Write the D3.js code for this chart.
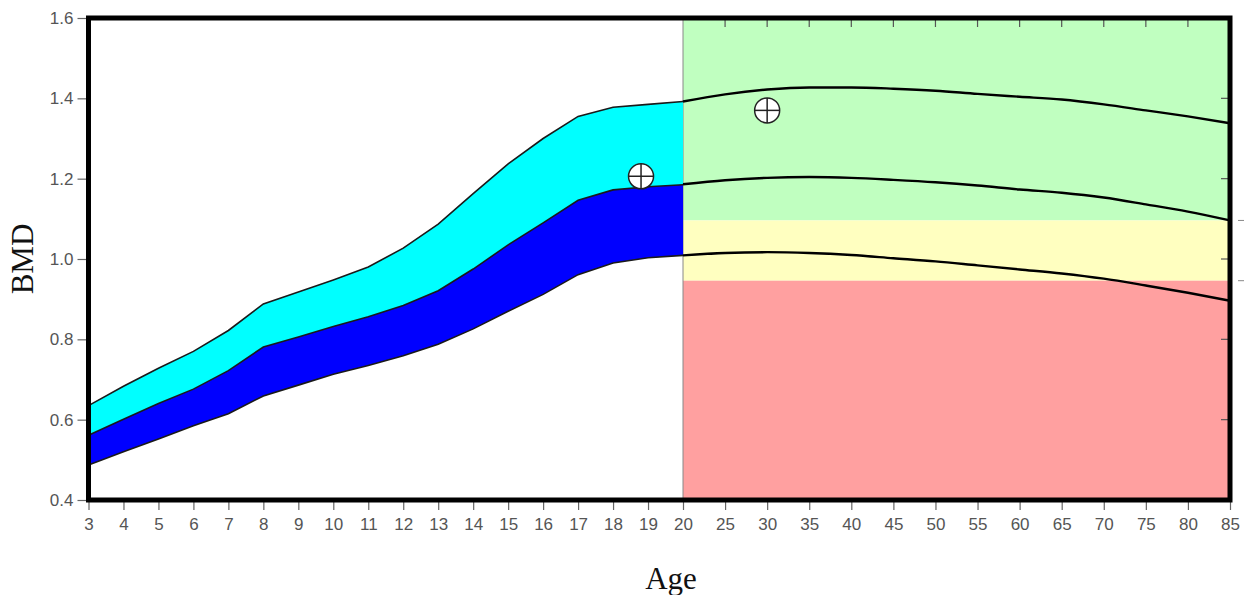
<!DOCTYPE html>
<html>
<head>
<meta charset="utf-8">
<script src="https://cdn.jsdelivr.net/npm/d3@7/dist/d3.min.js"></script>
<style>
html,body{margin:0;padding:0;background:#fff;}
svg{display:block;}
</style>
</head>
<body>
<svg id="chart" width="1244" height="595"></svg>
<script>
// ---------- data ----------
const agesChild = [3,4,5,6,7,8,9,10,11,12,13,14,15,16,17,18,19,20];
const childUpper = [0.635,0.683,0.728,0.770,0.822,0.888,0.918,0.948,0.980,1.027,1.087,1.163,1.237,1.300,1.355,1.378,1.385,1.392];
const childMid   = [0.561,0.601,0.640,0.676,0.722,0.781,0.806,0.832,0.856,0.884,0.921,0.975,1.035,1.090,1.146,1.172,1.180,1.185];
const childLower = [0.487,0.520,0.552,0.585,0.615,0.659,0.686,0.713,0.735,0.759,0.788,0.826,0.870,0.912,0.961,0.990,1.003,1.009];

const agesAdult = [20,25,30,35,40,45,50,55,60,65,70,75,80,85];
const adultUpper = [1.392,1.410,1.422,1.427,1.427,1.424,1.419,1.411,1.404,1.397,1.385,1.370,1.355,1.338];
const adultMid   = [1.186,1.196,1.202,1.204,1.202,1.197,1.191,1.183,1.173,1.165,1.153,1.136,1.118,1.096];
const adultLower = [1.009,1.015,1.017,1.015,1.010,1.002,0.994,0.984,0.974,0.964,0.951,0.934,0.916,0.896];

const bandNames = ["normal","osteopenia","osteoporosis"];
const bandTops  = [1.6, 1.096, 0.946];
const bandBottoms = [1.096, 0.946, 0.4];
const bandColors = ["#c0ffc0","#ffffc0","#ffa0a0"];

const patientAges = [18.8, 30];
const patientBMD  = [1.206, 1.370];

const xTickValues = [3,4,5,6,7,8,9,10,11,12,13,14,15,16,17,18,19,20,25,30,35,40,45,50,55,60,65,70,75,80,85];
const yTickValues = [0.4,0.6,0.8,1.0,1.2,1.4,1.6];

// ---------- scales ----------
const svg = d3.select("#chart");
const pLeft = 88.5, pRight = 1230, pTop = 18, pBottom = 500;
const x = d3.scaleLinear().domain([3,20,85]).range([pLeft,683,pRight]);
const y = d3.scaleLinear().domain([0.4,1.6]).range([pBottom,pTop]);

// adult reference bands
svg.append("g").selectAll("rect").data(bandNames).join("rect")
  .attr("x", x(20)).attr("width", x(85)-x(20))
  .attr("y", (d,i)=>y(bandTops[i]))
  .attr("height", (d,i)=>y(bandBottoms[i])-y(bandTops[i]))
  .attr("fill", (d,i)=>bandColors[i]);

// separator
svg.append("line").attr("x1",x(20)).attr("x2",x(20)).attr("y1",pTop).attr("y2",pBottom)
  .attr("stroke","#888").attr("stroke-width",1);

// child areas
const cyanArea = d3.area().x((d,i)=>x(agesChild[i])).y0((d,i)=>y(childMid[i])).y1((d,i)=>y(childUpper[i]));
const blueArea = d3.area().x((d,i)=>x(agesChild[i])).y0((d,i)=>y(childLower[i])).y1((d,i)=>y(childMid[i]));
svg.append("path").datum(agesChild).attr("d",cyanArea).attr("fill","#00ffff");
svg.append("path").datum(agesChild).attr("d",blueArea).attr("fill","#0000ff");
const childLine = d3.line().x(d=>x(d[0])).y(d=>y(d[1]));
[childUpper, childMid, childLower].forEach(arr=>{
  svg.append("path").datum(agesChild.map((a,i)=>[a,arr[i]])).attr("d",childLine)
    .attr("fill","none").attr("stroke","#1a1a1a").attr("stroke-width",1.6);
});

// adult curves
const adultLine = d3.line().x(d=>x(d[0])).y(d=>y(d[1])).curve(d3.curveMonotoneX);
[adultUpper, adultMid, adultLower].forEach(arr=>{
  svg.append("path").datum(agesAdult.map((a,i)=>[a,arr[i]])).attr("d",adultLine)
    .attr("fill","none").attr("stroke","#000").attr("stroke-width",2.4);
});

// patient markers
const pts = svg.append("g").selectAll("g").data(patientAges).join("g")
  .attr("transform",(d,i)=>`translate(${x(d)},${y(patientBMD[i])})`);
pts.append("circle").attr("r",12.5).attr("fill","#fff").attr("stroke","#222").attr("stroke-width",1.5);
pts.append("line").attr("x1",-12.5).attr("x2",12.5).attr("stroke","#222").attr("stroke-width",1.5);
pts.append("line").attr("y1",-12.5).attr("y2",12.5).attr("stroke","#222").attr("stroke-width",1.5);

// axes
const fontAxis = "'Liberation Sans', Arial, sans-serif";
const yAxis = svg.append("g").attr("transform",`translate(${pLeft-2},0)`)
  .call(d3.axisLeft(y).tickValues(yTickValues).tickFormat(d3.format(".1f")).tickSize(9).tickPadding(4).tickSizeOuter(0));
const xAxis = svg.append("g").attr("transform",`translate(0,${pBottom+2})`)
  .call(d3.axisBottom(x).tickValues(xTickValues).tickFormat(d3.format("d")).tickSize(8).tickPadding(8).tickSizeOuter(0));
[yAxis,xAxis].forEach(g=>{
  g.select(".domain").remove();
  g.selectAll(".tick line").attr("stroke","#666").attr("stroke-width",1.2);
  g.selectAll(".tick text").attr("fill","#555").style("font-family",fontAxis).style("font-size","17px");
});

// inner ticks: top (adult ages) and right (y values)
svg.append("g").selectAll("line").data(xTickValues.filter(v=>v>20 && v<85)).join("line")
  .attr("x1",d=>x(d)).attr("x2",d=>x(d)).attr("y1",pTop).attr("y2",pTop+9)
  .attr("stroke","#555").attr("stroke-width",1.2);
svg.append("g").selectAll("line").data(yTickValues.filter(v=>v>0.4 && v<1.6)).join("line")
  .attr("x1",pRight-9).attr("x2",pRight).attr("y1",d=>y(d)).attr("y2",d=>y(d))
  .attr("stroke","#555").attr("stroke-width",1.2);
// outer right marks at band thresholds
svg.append("g").selectAll("line").data([bandBottoms[0], bandBottoms[1]]).join("line")
  .attr("x1",pRight+8).attr("x2",pRight+14).attr("y1",d=>y(d)).attr("y2",d=>y(d))
  .attr("stroke","#888").attr("stroke-width",1);

// frame
svg.append("rect").attr("x",pLeft).attr("y",pTop).attr("width",pRight-pLeft).attr("height",pBottom-pTop)
  .attr("fill","none").attr("stroke","#000").attr("stroke-width",5);

// axis titles
svg.append("text").attr("transform",`translate(33,${(pTop+pBottom)/2}) rotate(-90)`)
  .attr("text-anchor","middle").style("font-family","'Liberation Serif', 'Times New Roman', serif")
  .style("font-size","31px").attr("fill","#111").text("BMD");
svg.append("text").attr("x",671).attr("y",589)
  .attr("text-anchor","middle").style("font-family","'Liberation Serif', 'Times New Roman', serif")
  .style("font-size","31px").attr("fill","#111").text("Age");
</script>
</body>
</html>
